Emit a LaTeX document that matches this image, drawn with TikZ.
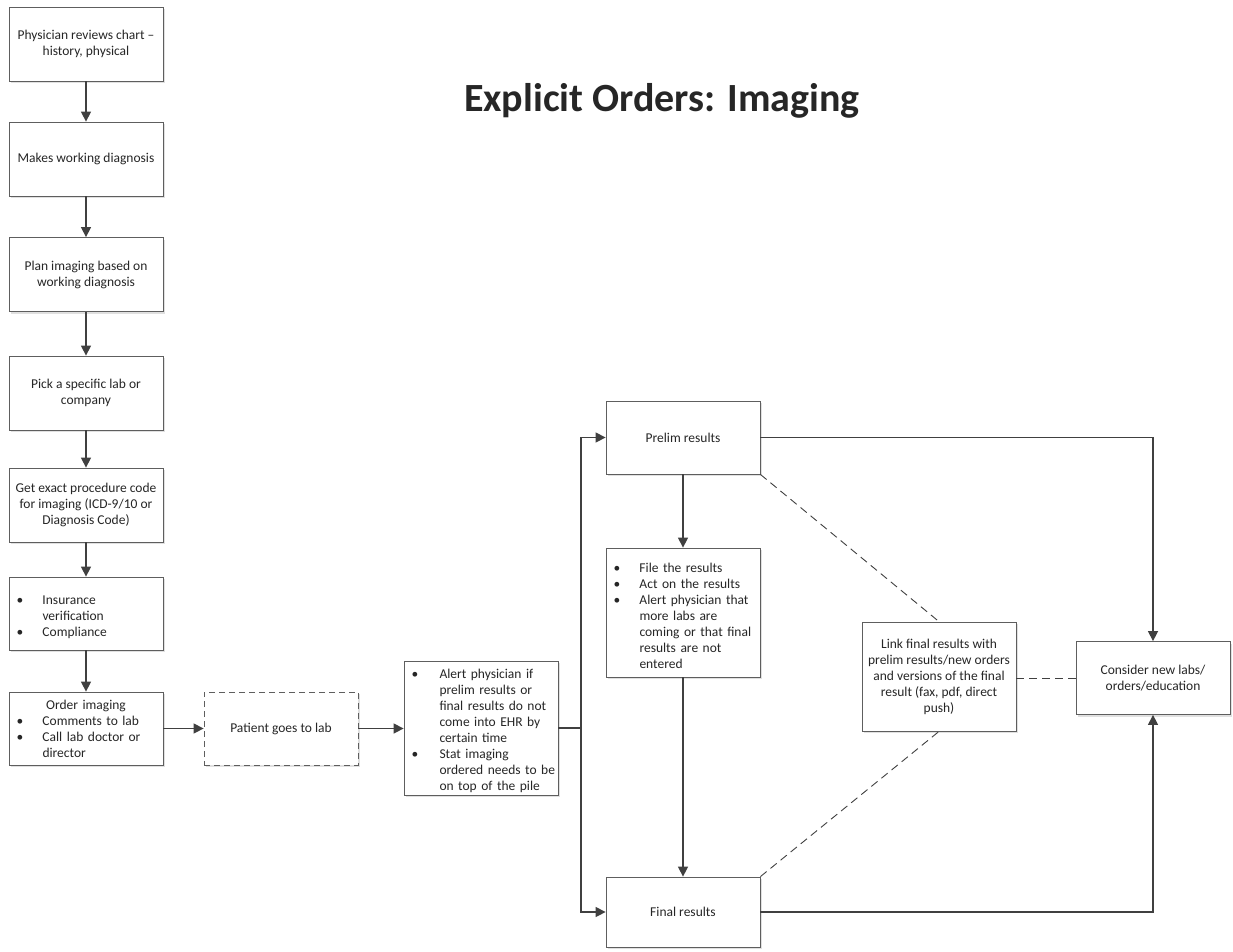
\documentclass[tikz,border=0pt]{standalone}
\usepackage{fontspec}
\setmainfont{Carlito}
\usepackage{tikz}
\usetikzlibrary{arrows.meta,shadows}

\definecolor{ln}{HTML}{404040}
\definecolor{bd}{HTML}{5E5E5E}
\definecolor{tx}{HTML}{262626}
% bullet item with hanging indent
\newcommand\bul[2][26pt]{\par\noindent\hangindent=#1\hangafter=1\makebox[#1][l]{\textbullet}#2\par}

\begin{document}
\begin{tikzpicture}[x=1pt,y=-1pt,>={Triangle[length=10pt,width=10pt]},
  every node/.style={font=\fontsize{13.5}{16}\selectfont,text=tx},
  box/.style={rectangle,draw=bd,line width=0.8pt,fill=white,minimum width=154pt,minimum height=74pt,
    inner sep=0pt,align=center,drop shadow={shadow xshift=2pt,shadow yshift=-2pt,fill=black,opacity=.12}},
  lst/.style={box,text width=139pt,align=left},
  flow/.style={->,draw=ln,line width=1.4pt},
  link/.style={draw=ln,line width=0.9pt,dash pattern=on 8pt off 5pt}]
  \useasboundingbox (0,0) rectangle (1233,951);

  \node[font=\fontsize{40}{48}\selectfont\bfseries] (title) at (662,101) {Explicit Orders: Imaging};

  % left column
  \node[box] (chart) at (86,44) {Physician reviews chart --\\ history, physical};
  \node[box] (diag) at (86,159) {Makes working diagnosis};
  \node[box] (plan) at (86,274.5) {Plan imaging based on\\ working diagnosis};
  \node[box] (pick) at (86,393) {Pick a specific lab or\\ company};
  \node[box] (code) at (86,505) {Get exact procedure code\\ for imaging (ICD-9/10 or\\ Diagnosis Code)};
  \node[lst,minimum height=73pt] (ins) at (86,613.5) {\bul{Insurance\newline verification}\bul{Compliance}};
  \node[lst,minimum height=73pt] (order) at (86,728.5)
    {\centerline{Order imaging}\bul{Comments to lab}\bul{Call lab doctor or\newline director}};

  \node[box,dash pattern=on 6pt off 4pt,minimum height=73pt] (lab) at (281,728.5) {Patient goes to lab};
  \node[lst,minimum height=134pt] (alert) at (481,728)
    {\bul[28pt]{Alert physician if\newline prelim results or\newline final results do not\newline come into EHR by\newline certain time}\bul[28pt]{Stat imaging\newline \mbox{ordered needs to be}\newline on top of the pile}};
  \coordinate (split) at (581,728);

  % results
  \node[box,minimum height=73pt] (prelim) at (683,437.5) {Prelim results};
  \node[lst,minimum height=129pt] (file) at (683,612.5)
    {\bul{File the results}\bul{Act on the results}\bul{Alert physician that\newline more labs are\newline coming or that final\newline results are not\newline entered}};
  \node[box,minimum height=70pt] (final) at (683,912) {Final results};
  \node[box,minimum height=109pt] (linkres) at (939,676.5)
    {Link final results with\\ prelim results/new orders\\ and versions of the final\\ result (fax, pdf, direct\\ push)};
  \node[box,minimum height=73pt] (cons) at (1153,678) {Consider new labs/\\ orders/education};

  \draw[flow] (chart) -- (diag);
  \draw[flow] (diag) -- (plan);
  \draw[flow] (plan) -- (pick);
  \draw[flow] (pick) -- (code);
  \draw[flow] (code) -- (ins);
  \draw[flow] (ins) -- (order);
  \draw[flow] (order) -- (lab);
  \draw[flow] (lab.east) -- (lab.east -| alert.west);
  \draw[flow,-] (alert.east |- split) -- (split);
  \draw[flow] (split) |- (prelim);
  \draw[flow] (split) |- (final.west);
  \draw[flow] (prelim) -- (file);
  \draw[flow] (file) -- (file.south |- final.north);
  \draw[flow] (prelim) -| (cons);
  \draw[flow] (final) -| (cons);
  \draw[link] (prelim.south east) -- (linkres.north);
  \draw[link] (final.north east) -- (linkres.south);
  \draw[link] (linkres.east |- cons) -- (cons);
\end{tikzpicture}
\end{document}
